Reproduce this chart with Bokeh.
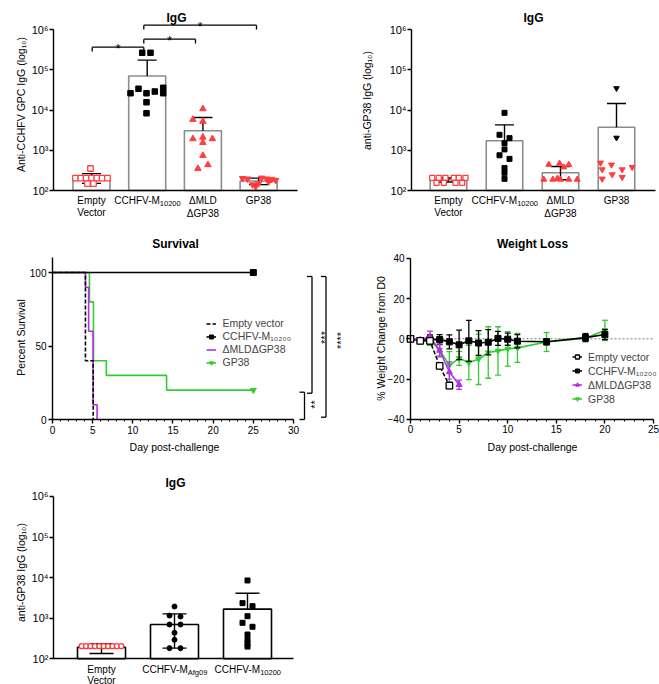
import math
from bokeh.plotting import figure
from bokeh.layouts import row, column
from bokeh.models import (Label, Legend, LegendItem, FixedTicker,
                          SingleIntervalTicker, Range1d)
from bokeh.embed import file_html
from bokeh.resources import INLINE

FONT = "Liberation Sans"
RED = "#ff3f3f"
PURPLE = "#b32fe6"
GREEN = "#2fcd2f"
GRAY = "#8c8c8c"

# ---------------- data ----------------
# panel a: anti-CCHFV GPC IgG
a_bar_mean = [190, 70000, 3050, 172]
a_err_hi = [262, 173000, 6500, 203]
a_err_lo = [150, None, None, 140]
a_empty_vals = [202, 202, 202, 202, 202, 202, 202, 352, 149, 149]
a_empty_jit = [-16, -10.7, -5.3, 0, 5.3, 10.7, 16, -1, -4, 2]
a_m10200_vals = [264000, 264000, 26100, 33700, 26100, 28800, 35600, 26100, 15600, 8300]
a_m10200_jit = [-5, 3.3, -16.7, -8.7, -0.7, 7.6, 16, 16, -0.7, -0.7]
a_mld_vals = [10700, 5800, 5200, 1920, 2100, 1920, 1550, 740, 350, 435]
a_mld_jit = [0, -10, 0, -10, 0, 9.5, 0, 0, -5, 5]
a_gp38_vals = [200, 195, 125, 205, 195, 190, 180, 140, 150, 165]
a_gp38_jit = [-16, -11, -3, 3, 8, 13, 17, -6, 0, 10]

# panel b: anti-GP38 IgG
b_bar_mean = [188, 1720, 276, 3740]
b_err_hi = [205, 4280, 395, 14500]
b_err_lo = [163, None, 185, None]
b_empty_vals = [207, 207, 207, 207, 207, 207, 155, 155, 155, 155]
b_empty_jit = [-16.3, -9.7, -3, 5.3, 10.3, 17, -12, -4.7, 7, 13.7]
b_m10200_vals = [8500, 2420, 2000, 1500, 1050, 750, 610, 360, 275, 195]
b_m10200_jit = [0, -5, 5, 0, 0, -5, 5, 0, 0, 0]
b_mld_vals = [440, 470, 440, 380, 188, 188, 188, 188, 188, 200]
b_mld_jit = [-11.7, -1, 8.3, 3.3, -16.7, -7.7, 0, 8.3, 16.7, -3]
b_gp38_vals = [34700, 2040, 488, 435, 332, 380, 332, 250, 195, 214]
b_gp38_jit = [0, 0, -16, -5, 5.7, 15.7, -14.3, -4.3, -14.3, 5.7]

# panel c: survival (Kaplan-Meier steps)
km_empty_t = [0, 4.1, 5.07]
km_empty_s = [100, 40, 0]
km_m10200_t = [0, 25]
km_m10200_s = [100, 100]
km_mld_t = [0, 4.1, 4.5, 5.05, 5.55]
km_mld_s = [100, 90, 60, 10, 0]
km_gp38_t = [0, 4.6, 5.1, 6.7, 14.2, 25]
km_gp38_s = [100, 80, 40, 30, 20, 20]

# panel d: weight change (%)
w_days = [0, 1, 2, 3, 4, 5, 6, 7, 8, 9, 10, 11, 14, 18, 20]
w_m10200 = [0, -0.9, -0.3, -0.4, -1.5, -3.0, -1.0, -2.1, -1.7, 0.2, -0.2, -1.2, -1.5, 0.6, 2.1]
w_m10200_sd = [0.5, 1.3, 2.2, 2.5, 3.5, 7.3, 10.2, 6.2, 6.3, 3.5, 3.0, 3.3, 1.5, 2.0, 2.5]
w_gp38 = [0, -1.2, -0.8, -5.5, -13.2, -9.7, -11.8, -10.2, -6.8, -6.0, -5.0, -4.5, -1.6, 0.3, 4.2]
w_gp38_sd = [0.6, 1.3, 2.5, 3.0, 6.8, 3.5, 8.5, 12.5, 12.8, 12.0, 8.6, 7.2, 4.7, 1.5, 5.0]
w_mld_days = [0, 1, 2, 3, 4, 5]
w_mld = [0, -0.5, 1.0, -5.8, -16.5, -22.8]
w_mld_sd = [0.5, 1.0, 2.8, 3.2, 5.0, 2.3]
w_empty_days = [0, 1, 2, 3, 4]
w_empty = [0, -1.0, -1.0, -13.5, -23.3]
w_empty_sd = [0.5, 0.8, 1.5, 1.3, 1.5]

# panel e: anti-GP38 IgG
e_bar_mean = [193, 700, 1670]
e_err_hi = [235, 1280, 4130]
e_err_lo = [135, 183, None]
e_empty_vals = [205] * 10
e_empty_jit = [-19.8, -15.4, -11, -6.6, -2.2, 2.2, 6.6, 11, 15.4, 19.8]
e_afg_vals = [1940, 1160, 1100, 700, 700, 437, 294, 183, 183]
e_afg_jit = [0, -5, 6, -5, 6, 0, 0, -5, 6]
e_m10200_vals = [8500, 2350, 1980, 1120, 770, 615, 396, 294, 234, 200]
e_m10200_jit = [0, -5, 5, 0, -5, 5, 0, 0, 0, 0]

LOG_TICKS = [100, 1000, 10000, 100000, 1000000]
LOG_LABELS = {100: "10²", 1000: "10³", 10000: "10⁴", 100000: "10⁵", 1000000: "10⁶"}


# ---------------- geometry helpers ----------------
class Geo:
    """Maps page pixels to data; the plot frame fills the whole figure."""

    def __init__(self, left, top, w, h, xa, xpa, xs, ya, ypa, ys, ylog=False):
        self.left, self.top, self.w, self.h = left, top, w, h
        self.xa, self.xpa, self.xs = xa, xpa, xs
        self.ya, self.ypa, self.ys, self.ylog = ya, ypa, ys, ylog
        self.xr = (self.x(left), self.x(left + w))
        self.yr = (self.y(top + h), self.y(top))

    def x(self, px):
        return self.xa + (px - self.xpa) / self.xs

    def y(self, py):
        v = self.ya + (self.ypa - py) / self.ys
        return 10 ** v if self.ylog else v


def style_axis(ax, size="10px"):
    ax.axis_line_color = "black"
    ax.axis_line_width = 1.4
    ax.major_tick_line_color = "black"
    ax.major_tick_line_width = 1.4
    ax.major_tick_out = 4
    ax.major_tick_in = 0
    ax.minor_tick_line_color = "black"
    ax.minor_tick_line_width = 1
    ax.minor_tick_out = 2
    ax.minor_tick_in = 0
    ax.major_label_text_font = FONT
    ax.major_label_text_font_size = size
    ax.major_label_text_color = "black"
    ax.major_label_standoff = 2


def make_fig(g):
    kw = dict(width=g.w, height=g.h, x_range=Range1d(*g.xr), y_range=Range1d(*g.yr),
              output_backend="svg", toolbar_location=None, title=None,
              min_border_left=0, min_border_right=0, min_border_top=0,
              min_border_bottom=0, background_fill_color="white",
              border_fill_color="white", outline_line_color=None)
    if g.ylog:
        kw["y_axis_type"] = "log"
    p = figure(**kw)
    p.grid.visible = False
    for ax in p.axis:
        style_axis(ax)
    return p


def label(p, g, px, py, text, size="10px", bold=False, align="center",
          baseline="middle", angle=0.0, color="black"):
    p.add_layout(Label(x=g.x(px), y=g.y(py), text=text, text_font=FONT,
                       text_font_size=size,
                       text_font_style="bold" if bold else "normal",
                       text_align=align, text_baseline=baseline, angle=angle,
                       text_color=color))


WID = {"C": .722, "H": .722, "F": .611, "V": .667, "-": .333, "M": .833,
       "A": .667, "f": .278, "g": .556}


def tw(s, size):
    return sum(WID.get(ch, .556) for ch in s) * size


def sub_label(p, g, cx, py, main, sub, size=10, subsize=7.5):
    w1, w2 = tw(main, size), tw(sub, subsize)
    edge = cx - (w1 + w2) / 2 + w1
    label(p, g, edge, py, main, size=f"{size}px", align="right")
    label(p, g, edge, py + 3, sub, size=f"{subsize}px", align="left")


def bar_panel(p, centers, means, hi, lo, spacing, bar_color, bar_w_px, cap_px):
    w = bar_w_px / spacing
    p.vbar(x=centers, top=means, bottom=100, width=w, fill_color="white",
           line_color=bar_color, line_width=1.6)
    cap = cap_px / spacing
    x0, y0, x1, y1 = [], [], [], []
    for c, m, h, l in zip(centers, means, hi, lo):
        x0 += [c, c - cap]; y0 += [m, h]; x1 += [c, c + cap]; y1 += [h, h]
        if l is not None:
            x0 += [c, c - cap]; y0 += [l, l]; x1 += [c, c + cap]; y1 += [m, l]
    p.segment(x0, y0, x1, y1, line_color="black", line_width=1.4)


def pts(c, jit, spacing):
    return [c + j / spacing for j in jit]


def log_axes(p, g, ax_px0, ax_px1):
    p.yaxis.ticker = FixedTicker(ticks=LOG_TICKS, minor_ticks=[])
    p.yaxis.major_label_overrides = LOG_LABELS
    p.yaxis.major_label_text_font_size = "11px"
    p.yaxis.major_label_standoff = 1
    p.yaxis.bounds = (100, 1000000)
    p.yaxis.fixed_location = g.x(ax_px0)
    p.xaxis.ticker = FixedTicker(ticks=[], minor_ticks=[])
    p.xaxis.fixed_location = 100
    p.xaxis.bounds = (g.x(ax_px0), g.x(ax_px1))


# ---------------- panel a ----------------
SA = 55.7
ga = Geo(0, 0, 330, 235, 1, 91, SA, 2, 190, 40.25, True)
pa = make_fig(ga)
log_axes(pa, ga, 53, 297)
bar_panel(pa, [1, 2, 3, 4], a_bar_mean, a_err_hi, a_err_lo, SA, GRAY, 37, 9.5)
pa.scatter(pts(1, a_empty_jit, SA), a_empty_vals, marker="square", size=5.5,
           fill_color="white", line_color=RED, line_width=1.3)
pa.scatter(pts(2, a_m10200_jit, SA), a_m10200_vals, marker="square", size=5.5,
           fill_color="black", line_color="black")
pa.scatter(pts(3, a_mld_jit, SA), a_mld_vals, marker="triangle", size=6.5,
           fill_color=RED, line_color=RED)
pa.scatter(pts(4, a_gp38_jit, SA), a_gp38_vals, marker="inverted_triangle", size=6.5,
           fill_color=RED, line_color=RED)
# significance brackets (page geometry)
a_brackets = [(91.7, 143.3, 46.7, "*"), (143.3, 195.0, 38.7, "*"), (143.3, 256.0, 24.7, "*")]
bx0, by0, bx1, by1 = [], [], [], []
for l, r, lv, s in a_brackets:
    bx0 += [ga.x(l), ga.x(l), ga.x(r)]
    by0 += [ga.y(lv), ga.y(lv), ga.y(lv)]
    bx1 += [ga.x(r), ga.x(l), ga.x(r)]
    by1 += [ga.y(lv), ga.y(lv + 4.3), ga.y(lv + 4.3)]
    label(pa, ga, (l + r) / 2, lv - 6 + 7.5, s, size="13px", baseline="alphabetic")
pa.segment(bx0, by0, bx1, by1, line_color="black", line_width=1.3)
label(pa, ga, 176, 17, "IgG", size="12px", bold=True)
label(pa, ga, 20, 104, "Anti-CCHFV GPC IgG (log₁₀)", size="10.5px", angle=math.pi / 2)
ca = [91 + SA * i for i in range(4)]
label(pa, ga, ca[0], 200, "Empty")
label(pa, ga, ca[0], 212, "Vector")
sub_label(pa, ga, ca[1], 200, "CCHFV-M", "10200")
label(pa, ga, ca[2], 200, "ΔMLD")
label(pa, ga, ca[2], 212.5, "ΔGP38")
label(pa, ga, ca[3], 200, "GP38")

# ---------------- panel b ----------------
SB = 56.0
gb = Geo(330, 0, 329, 235, 1, 448, SB, 2, 190, 40.25, True)
pb = make_fig(gb)
log_axes(pb, gb, 411, 655)
bar_panel(pb, [1, 2, 3, 4], b_bar_mean, b_err_hi, b_err_lo, SB, GRAY, 36.5, 9.5)
pb.scatter(pts(1, b_empty_jit, SB), b_empty_vals, marker="square", size=5,
           fill_color="white", line_color=RED, line_width=1.3)
pb.scatter(pts(2, b_m10200_jit, SB), b_m10200_vals, marker="square", size=5,
           fill_color="black", line_color="black")
pb.scatter(pts(3, b_mld_jit, SB), b_mld_vals, marker="triangle", size=6,
           fill_color=RED, line_color=RED)
pb.scatter(pts(4, b_gp38_jit[:2], SB), b_gp38_vals[:2], marker="inverted_triangle", size=5.5,
           fill_color="black", line_color="black")
pb.scatter(pts(4, b_gp38_jit[2:], SB), b_gp38_vals[2:], marker="inverted_triangle", size=6,
           fill_color=RED, line_color=RED)
label(pb, gb, 533, 17, "IgG", size="12px", bold=True)
label(pb, gb, 366, 100, "anti-GP38 IgG (log₁₀)", size="10.5px", angle=math.pi / 2)
cb = [448 + SB * i for i in range(4)]
label(pb, gb, cb[0], 200, "Empty")
label(pb, gb, cb[0], 212, "Vector")
sub_label(pb, gb, cb[1], 200, "CCHFV-M", "10200")
label(pb, gb, cb[2], 200, "ΔMLD")
label(pb, gb, cb[2], 212.5, "ΔGP38")
label(pb, gb, cb[3], 200, "GP38")

# ---------------- panel c ----------------
gc = Geo(0, 235, 346, 230, 0, 52, 8.033, 0, 419, 1.47)
pc = make_fig(gc)
pc.xaxis.ticker = SingleIntervalTicker(interval=5, num_minor_ticks=5)
pc.xaxis.bounds = (0, 30)
pc.xaxis.fixed_location = 0
pc.yaxis.ticker = FixedTicker(ticks=[0, 50, 100], minor_ticks=[])
pc.yaxis.bounds = (0, 110)
pc.yaxis.fixed_location = 0
r_gp_c = pc.step(km_gp38_t, km_gp38_s, mode="after", line_color=GREEN, line_width=1.6)
r_mld_c = pc.step(km_mld_t, km_mld_s, mode="after", line_color=PURPLE, line_width=1.6)
r_emp_c = pc.step(km_empty_t, km_empty_s, mode="after", line_color="black",
                  line_width=1.6, line_dash="4 2")
r_m_c = pc.step(km_m10200_t, km_m10200_s, mode="after", line_color="black", line_width=1.6)
m_m_c = pc.scatter(km_m10200_t[-1:], km_m10200_s[-1:], marker="square", size=6,
                   color="black")
m_gp_c = pc.scatter(km_gp38_t[-1:], km_gp38_s[-1:], marker="inverted_triangle", size=6,
                    color=GREEN)
m_mld_c = pc.scatter([], [], marker="triangle", size=6, color=PURPLE)
m_emp_c = pc.scatter([], [], marker="square", size=6, fill_color="white",
                     line_color="black", line_width=1.2)
leg_c = Legend(items=[
    LegendItem(label="Empty vector", renderers=[r_emp_c, m_emp_c]),
    LegendItem(label="CCHFV-M₁₀₂₀₀", renderers=[r_m_c, m_m_c]),
    LegendItem(label="ΔMLDΔGP38", renderers=[r_mld_c, m_mld_c]),
    LegendItem(label="GP38", renderers=[r_gp_c, m_gp_c]),
], location=(205.5, 96.5), margin=0, padding=0, spacing=0, glyph_width=10,
    glyph_height=13, label_height=13, label_standoff=7, label_text_font=FONT,
    label_text_font_size="10.5px", border_line_color=None, background_fill_alpha=0)
pc.add_layout(leg_c)
# significance brackets (page geometry): x of vertical, top, bottom, text, text pos
c_brackets = [(311.5, 276, 392.7, "***", 318.5, 337), (304, 391.7, 419, "**", 309, 404),
              (325.5, 276, 416.7, "****", 334.5, 340)]
sx0, sy0, sx1, sy1 = [], [], [], []
for xv, yt, ybt, s, tx, ty in c_brackets:
    sx0 += [gc.x(xv), gc.x(xv - 5), gc.x(xv - 5)]
    sy0 += [gc.y(yt), gc.y(yt), gc.y(ybt)]
    sx1 += [gc.x(xv), gc.x(xv), gc.x(xv)]
    sy1 += [gc.y(ybt), gc.y(yt), gc.y(ybt)]
    label(pc, gc, tx + 5.5, ty, s, size="11px", baseline="alphabetic", angle=math.pi / 2)
pc.segment(sx0, sy0, sx1, sy1, line_color="black", line_width=1.3)
label(pc, gc, 175, 243, "Survival", size="12px", bold=True)
label(pc, gc, 20, 337, "Percent Survival", size="10.5px", angle=math.pi / 2)
label(pc, gc, 174, 446, "Day post-challenge", size="10.5px")

# ---------------- panel d ----------------
gd = Geo(346, 235, 313, 230, 0, 410, 9.72, 0, 338.3, 2.0125)
pd = make_fig(gd)
pd.xaxis.ticker = SingleIntervalTicker(interval=5, num_minor_ticks=5)
pd.xaxis.bounds = (0, 25)
pd.xaxis.fixed_location = -40
pd.yaxis.ticker = SingleIntervalTicker(interval=20, num_minor_ticks=0)
pd.yaxis.bounds = (-40, 40)
pd.yaxis.fixed_location = 0
# dotted reference line at 0 along the x-axis extent
pd.segment(x0=[pd.xaxis.bounds[0]], y0=[0], x1=[pd.xaxis.bounds[1]], y1=[0],
           line_color="#7a7a7a", line_width=1, line_dash="2 2")


def err_series(p, days, vals, sd, color, cap=0.3):
    x0, y0, x1, y1 = [], [], [], []
    for d, v, s in zip(days, vals, sd):
        x0 += [d, d - cap, d - cap]; y0 += [v - s, v + s, v - s]
        x1 += [d, d + cap, d + cap]; y1 += [v + s, v + s, v - s]
    p.segment(x0, y0, x1, y1, line_color=color, line_width=1.3)


err_series(pd, w_days, w_gp38, w_gp38_sd, GREEN)
l_gp = pd.line(w_days, w_gp38, line_color=GREEN, line_width=1.6)
s_gp = pd.scatter(w_days, w_gp38, marker="inverted_triangle", size=5.5, color=GREEN)
err_series(pd, w_days, w_m10200, w_m10200_sd, "black")
l_m = pd.line(w_days, w_m10200, line_color="black", line_width=1.6)
s_m = pd.scatter(w_days, w_m10200, marker="square", size=6, color="black")
err_series(pd, w_mld_days, w_mld, w_mld_sd, PURPLE)
l_mld = pd.line(w_mld_days, w_mld, line_color=PURPLE, line_width=1.6)
s_mld = pd.scatter(w_mld_days, w_mld, marker="triangle", size=6, color=PURPLE)
err_series(pd, w_empty_days, w_empty, w_empty_sd, "black")
l_emp = pd.line(w_empty_days, w_empty, line_color="black", line_width=1.5, line_dash="4 2")
s_emp = pd.scatter(w_empty_days, w_empty, marker="square", size=6.5, fill_color="white",
                   line_color="black", line_width=1.3)
leg_d = Legend(items=[
    LegendItem(label="Empty vector", renderers=[l_emp, s_emp]),
    LegendItem(label="CCHFV-M₁₀₂₀₀", renderers=[l_m, s_m]),
    LegendItem(label="ΔMLDΔGP38", renderers=[l_mld, s_mld]),
    LegendItem(label="GP38", renderers=[l_gp, s_gp]),
], location=(226, 60), margin=0, padding=0, spacing=1, glyph_width=10,
    glyph_height=13, label_height=13, label_standoff=6, label_text_font=FONT,
    label_text_font_size="10.5px", border_line_color=None, background_fill_alpha=0)
pd.add_layout(leg_d)
label(pd, gd, 532, 243, "Weight Loss", size="12px", bold=True)
label(pd, gd, 380, 338, "% Weight Change from D0", size="10.5px", angle=math.pi / 2)
label(pd, gd, 532, 446, "Day post-challenge", size="10.5px")

# ---------------- panel e ----------------
SE = 73.0
ge = Geo(0, 465, 330, 219, 1, 101, SE, 2, 658.3, 40.6, True)
pe = make_fig(ge)
log_axes(pe, ge, 53, 293)
bar_panel(pe, [1, 2, 3], e_bar_mean, e_err_hi, e_err_lo, SE, "black", 48, 12)
pe.scatter(pts(1, e_empty_jit, SE), e_empty_vals, marker="circle", size=5,
           fill_color="white", line_color=RED, line_width=1.4)
pe.scatter(pts(2, e_afg_jit, SE), e_afg_vals, marker="circle", size=5,
           fill_color="black", line_color="black")
pe.scatter(pts(3, e_m10200_jit, SE), e_m10200_vals, marker="square", size=5,
           fill_color="black", line_color="black")
label(pe, ge, 175, 482, "IgG", size="12px", bold=True)
label(pe, ge, 20, 572, "anti-GP38 IgG (log₁₀)", size="10.5px", angle=math.pi / 2)
ce = [101 + SE * i for i in range(3)]
label(pe, ge, ce[0], 669, "Empty")
label(pe, ge, ce[0], 679.5, "Vector")
sub_label(pe, ge, ce[1], 669, "CCHFV-M", "Afg09")
sub_label(pe, ge, ce[2], 669, "CCHFV-M", "10200")

layout = column(row(pa, pb), row(pc, pd), row(pe))
open("out.html", "w").write(file_html(layout, INLINE))
